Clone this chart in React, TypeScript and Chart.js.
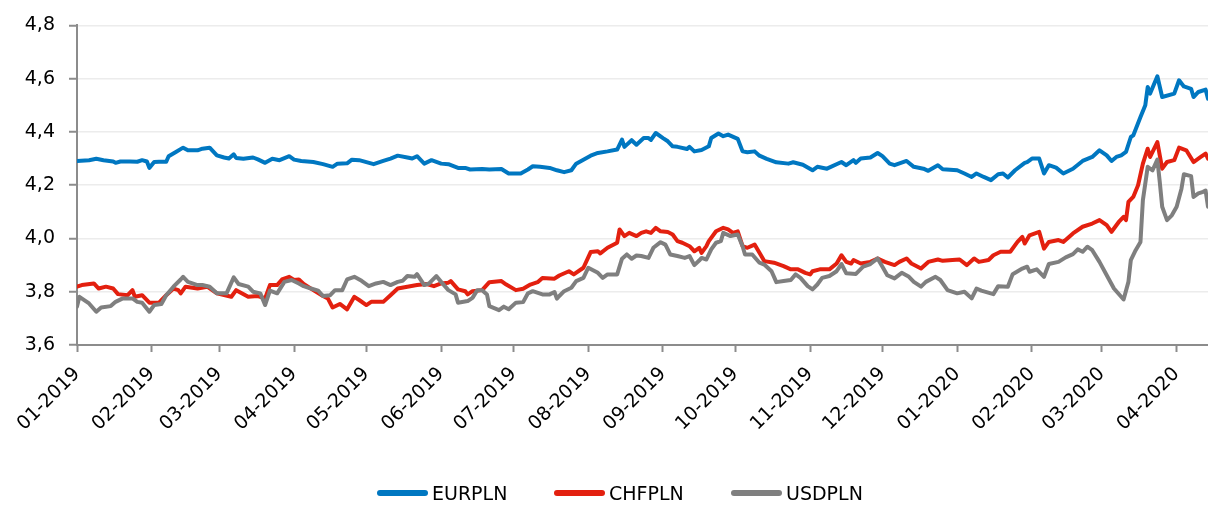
import React, { useEffect, useRef } from "react";
import { Chart, registerables } from "chart.js";

Chart.register(...registerables);

// x values: days since 2019-01-01
const eurDays = [0,5,8,11,15,16,18,22,25,27,29,30,32,34,37,38,41,44,46,50,52,55,58,61,63,65,66,69,73,75,78,81,84,88,90,93,98,102,106,108,112,114,117,123,127,130,133,137,139,141,144,147,151,154,158,161,163,168,171,176,179,184,187,189,192,196,199,202,205,207,210,213,216,220,224,226,227,230,232,235,237,238,240,243,245,247,249,253,254,256,259,262,263,266,268,270,274,276,278,281,283,286,290,295,297,301,305,307,311,317,319,322,323,325,329,332,334,337,339,344,347,351,353,357,359,365,368,371,373,376,379,382,384,386,389,393,394,396,399,401,403,406,409,413,417,421,424,427,429,431,433,435,437,438,441,443,444,445,448,450,455,457,459,462,463,465,468,469];
const eurValues = [4.291,4.294,4.299,4.294,4.289,4.284,4.289,4.289,4.288,4.294,4.289,4.265,4.287,4.288,4.288,4.309,4.325,4.341,4.331,4.331,4.337,4.341,4.312,4.304,4.300,4.316,4.302,4.299,4.304,4.297,4.284,4.299,4.294,4.309,4.296,4.291,4.287,4.279,4.269,4.281,4.282,4.296,4.294,4.279,4.291,4.300,4.311,4.304,4.300,4.309,4.281,4.294,4.281,4.279,4.265,4.265,4.259,4.261,4.259,4.261,4.244,4.244,4.259,4.271,4.269,4.265,4.256,4.249,4.256,4.281,4.296,4.311,4.321,4.327,4.334,4.371,4.344,4.369,4.352,4.377,4.377,4.370,4.396,4.377,4.365,4.346,4.344,4.336,4.344,4.327,4.332,4.346,4.377,4.394,4.384,4.390,4.374,4.327,4.324,4.327,4.311,4.299,4.286,4.281,4.286,4.277,4.256,4.269,4.262,4.287,4.275,4.294,4.284,4.300,4.304,4.321,4.309,4.281,4.275,4.291,4.269,4.262,4.254,4.275,4.260,4.256,4.244,4.231,4.244,4.231,4.219,4.241,4.244,4.229,4.256,4.284,4.287,4.300,4.300,4.244,4.275,4.266,4.244,4.262,4.291,4.306,4.331,4.312,4.291,4.306,4.312,4.325,4.381,4.387,4.456,4.500,4.569,4.544,4.609,4.531,4.544,4.594,4.571,4.562,4.531,4.550,4.559,4.525];

const chfDays = [0,2,7,9,12,15,17,21,23,24,27,30,34,37,40,42,43,45,50,54,58,64,66,71,75,78,80,83,85,88,90,92,94,98,102,104,106,109,112,115,117,120,122,127,130,133,137,141,145,148,151,154,155,158,161,162,164,168,171,176,178,182,185,188,191,193,198,200,204,206,210,213,216,217,220,224,225,227,229,232,234,236,238,240,242,245,247,249,251,254,256,258,259,261,262,265,268,270,272,274,276,278,281,283,285,289,293,296,299,302,304,305,308,312,315,317,319,321,322,325,329,332,335,339,341,344,346,350,353,357,359,363,366,369,372,374,378,380,383,387,390,392,393,395,399,401,403,407,409,413,417,421,424,427,429,432,434,435,436,438,440,442,444,445,448,450,452,455,457,460,463,466,468,469];
const chfValues = [3.819,3.825,3.831,3.812,3.819,3.812,3.791,3.787,3.806,3.781,3.787,3.759,3.759,3.787,3.812,3.806,3.794,3.819,3.812,3.819,3.794,3.781,3.806,3.781,3.784,3.775,3.825,3.825,3.846,3.856,3.844,3.846,3.829,3.806,3.784,3.775,3.741,3.754,3.734,3.781,3.769,3.750,3.762,3.762,3.787,3.812,3.819,3.825,3.829,3.821,3.831,3.834,3.840,3.809,3.802,3.790,3.802,3.806,3.836,3.840,3.827,3.806,3.811,3.827,3.836,3.852,3.849,3.861,3.877,3.865,3.890,3.949,3.952,3.944,3.965,3.984,4.034,4.009,4.021,4.009,4.021,4.027,4.021,4.040,4.027,4.024,4.015,3.990,3.984,3.971,3.952,3.965,3.946,3.971,3.990,4.027,4.040,4.034,4.021,4.027,3.971,3.965,3.977,3.946,3.915,3.909,3.896,3.884,3.884,3.871,3.865,3.877,3.884,3.884,3.906,3.937,3.912,3.906,3.919,3.906,3.912,3.925,3.912,3.900,3.912,3.925,3.906,3.887,3.912,3.921,3.916,3.919,3.921,3.900,3.925,3.912,3.919,3.937,3.950,3.950,3.987,4.006,3.981,4.012,4.025,3.962,3.987,3.994,3.987,4.019,4.044,4.056,4.069,4.050,4.025,4.062,4.081,4.069,4.137,4.156,4.200,4.281,4.337,4.306,4.362,4.262,4.287,4.294,4.341,4.331,4.287,4.306,4.319,4.300];

const usdDays = [0,1,5,8,10,14,16,19,23,25,27,30,32,35,37,40,43,44,46,50,52,55,58,62,65,67,71,73,76,78,80,83,86,89,92,94,97,100,102,105,107,110,112,115,118,121,124,127,130,133,135,137,140,141,144,146,149,151,154,157,158,162,164,166,168,170,171,175,177,179,182,185,187,189,193,196,198,199,200,202,205,207,210,212,216,218,220,224,226,228,230,232,234,237,239,242,244,246,249,252,254,256,258,259,261,263,265,267,268,271,274,276,277,280,283,285,288,290,293,296,298,300,303,305,307,309,312,315,317,319,323,326,329,332,334,336,339,342,345,347,350,352,356,358,361,365,368,371,373,375,380,382,386,388,392,394,395,398,401,403,407,410,413,415,417,419,421,424,427,430,433,434,436,437,439,441,442,444,446,448,449,450,452,454,456,458,459,462,463,465,467,468,469];
const usdValues = [3.744,3.781,3.756,3.725,3.741,3.746,3.762,3.775,3.775,3.762,3.759,3.725,3.750,3.754,3.787,3.819,3.846,3.856,3.837,3.825,3.825,3.819,3.794,3.794,3.854,3.829,3.819,3.800,3.794,3.750,3.804,3.794,3.837,3.844,3.831,3.821,3.812,3.804,3.784,3.787,3.806,3.806,3.846,3.856,3.841,3.821,3.831,3.837,3.825,3.837,3.841,3.859,3.856,3.866,3.825,3.831,3.859,3.837,3.806,3.790,3.759,3.765,3.777,3.806,3.806,3.790,3.746,3.731,3.744,3.734,3.759,3.761,3.794,3.802,3.790,3.790,3.799,3.774,3.784,3.802,3.815,3.840,3.852,3.890,3.871,3.852,3.865,3.865,3.924,3.940,3.924,3.936,3.934,3.927,3.965,3.986,3.977,3.940,3.934,3.927,3.934,3.900,3.917,3.927,3.921,3.959,3.984,3.990,4.021,4.009,4.015,3.971,3.940,3.940,3.909,3.902,3.877,3.836,3.840,3.844,3.865,3.852,3.821,3.809,3.827,3.852,3.859,3.877,3.904,3.869,3.867,3.894,3.904,3.925,3.894,3.862,3.850,3.871,3.856,3.837,3.819,3.837,3.856,3.844,3.806,3.794,3.800,3.775,3.812,3.804,3.791,3.821,3.819,3.866,3.887,3.894,3.875,3.884,3.856,3.904,3.912,3.929,3.941,3.959,3.950,3.969,3.956,3.912,3.862,3.812,3.781,3.771,3.837,3.919,3.956,3.987,4.144,4.269,4.256,4.296,4.212,4.119,4.069,4.087,4.119,4.187,4.241,4.234,4.156,4.169,4.175,4.180,4.119];

// month-start ticks (days since 2019-01-01) and their labels
const tickDays = [0,31,59,90,120,151,181,212,243,273,304,334,365,396,425,456];
const tickLabels = ["01-2019","02-2019","03-2019","04-2019","05-2019","06-2019","07-2019","08-2019","09-2019","10-2019","11-2019","12-2019","01-2020","02-2020","03-2020","04-2020"];
const seriesNames = ["EURPLN", "CHFPLN", "USDPLN"];
const seriesColors = ["#0077c1", "#e3200f", "#7f7f7f"];

const FONT = "'DejaVu Sans', Verdana, sans-serif";

function toPoints(days: number[], vals: number[]) {
  return days.map((d, i) => ({ x: d, y: vals[i] }));
}

export default function App() {
  const ref = useRef<HTMLCanvasElement | null>(null);

  useEffect(() => {
    if (!ref.current) return;
    const allData = [toPoints(eurDays, eurValues), toPoints(chfDays, chfValues), toPoints(usdDays, usdValues)];
    const chart = new Chart(ref.current, {
      type: "line",
      data: {
        datasets: seriesNames.map((name, i) => ({
          label: name,
          data: allData[i],
          borderColor: seriesColors[i],
          backgroundColor: seriesColors[i],
          borderWidth: 4,
          pointRadius: 0,
          tension: 0,
          borderJoinStyle: "round" as const,
          borderCapStyle: "round" as const,
          order: 2 - i,
        })),
      },
      options: {
        animation: false,
        responsive: true,
        maintainAspectRatio: false,
        layout: { padding: { top: 25, left: 0, right: 0, bottom: 0 } },
        plugins: { legend: { display: false }, tooltip: { enabled: false } },
        scales: {
          x: {
            type: "linear",
            min: 0,
            max: 469,
            afterBuildTicks: (scale: any) => {
              scale.ticks = tickDays.map((d) => ({ value: d }));
            },
            afterFit: (scale: any) => {
              scale.height = 160;
            },
            ticks: {
              autoSkip: false,
              minRotation: 45,
              maxRotation: 45,
              padding: 11,
              color: "#000",
              font: { family: FONT, size: 19 },
              callback: (v: any) => {
                const idx = tickDays.indexOf(Number(v));
                return idx >= 0 ? tickLabels[idx] : "";
              },
            },
            grid: {
              drawOnChartArea: false,
              drawTicks: true,
              tickLength: 7,
              tickWidth: 2,
              tickColor: "#8c8c8c",
            },
            border: { display: true, color: "#8c8c8c", width: 2 },
          },
          y: {
            min: 3.6,
            max: 4.8,
            afterFit: (scale: any) => {
              scale.width = 77;
            },
            ticks: {
              stepSize: 0.2,
              padding: 14,
              color: "#000",
              font: { family: FONT, size: 19 },
              callback: (v: any) => Number(v).toFixed(1).replace(".", ","),
            },
            grid: {
              color: "#ececec",
              lineWidth: 1.5,
              tickLength: 8,
              tickWidth: 2,
              tickColor: "#8c8c8c",
            },
            border: { display: true, color: "#8c8c8c", width: 2 },
          },
        },
      },
    });
    return () => chart.destroy();
  }, []);

  return (
    <div style={{ position: "absolute", left: 0, top: 0, width: 1208, height: 505, background: "#fff", overflow: "hidden" }}>
      <canvas ref={ref} />
      <div style={{ position: "absolute", left: 0, top: 480, width: 1208, height: 25, fontFamily: FONT, fontSize: 19, color: "#000" }}>
        {seriesNames.map((name, i) => (
          <div key={name} style={{ position: "absolute", left: 377 + i * 177, top: 0, height: 25, display: "flex", alignItems: "center", whiteSpace: "nowrap" }}>
            <span style={{ display: "inline-block", width: 51, height: 6, borderRadius: 3, background: seriesColors[i], marginRight: 4 }} />
            <span>{name}</span>
          </div>
        ))}
      </div>
    </div>
  );
}
